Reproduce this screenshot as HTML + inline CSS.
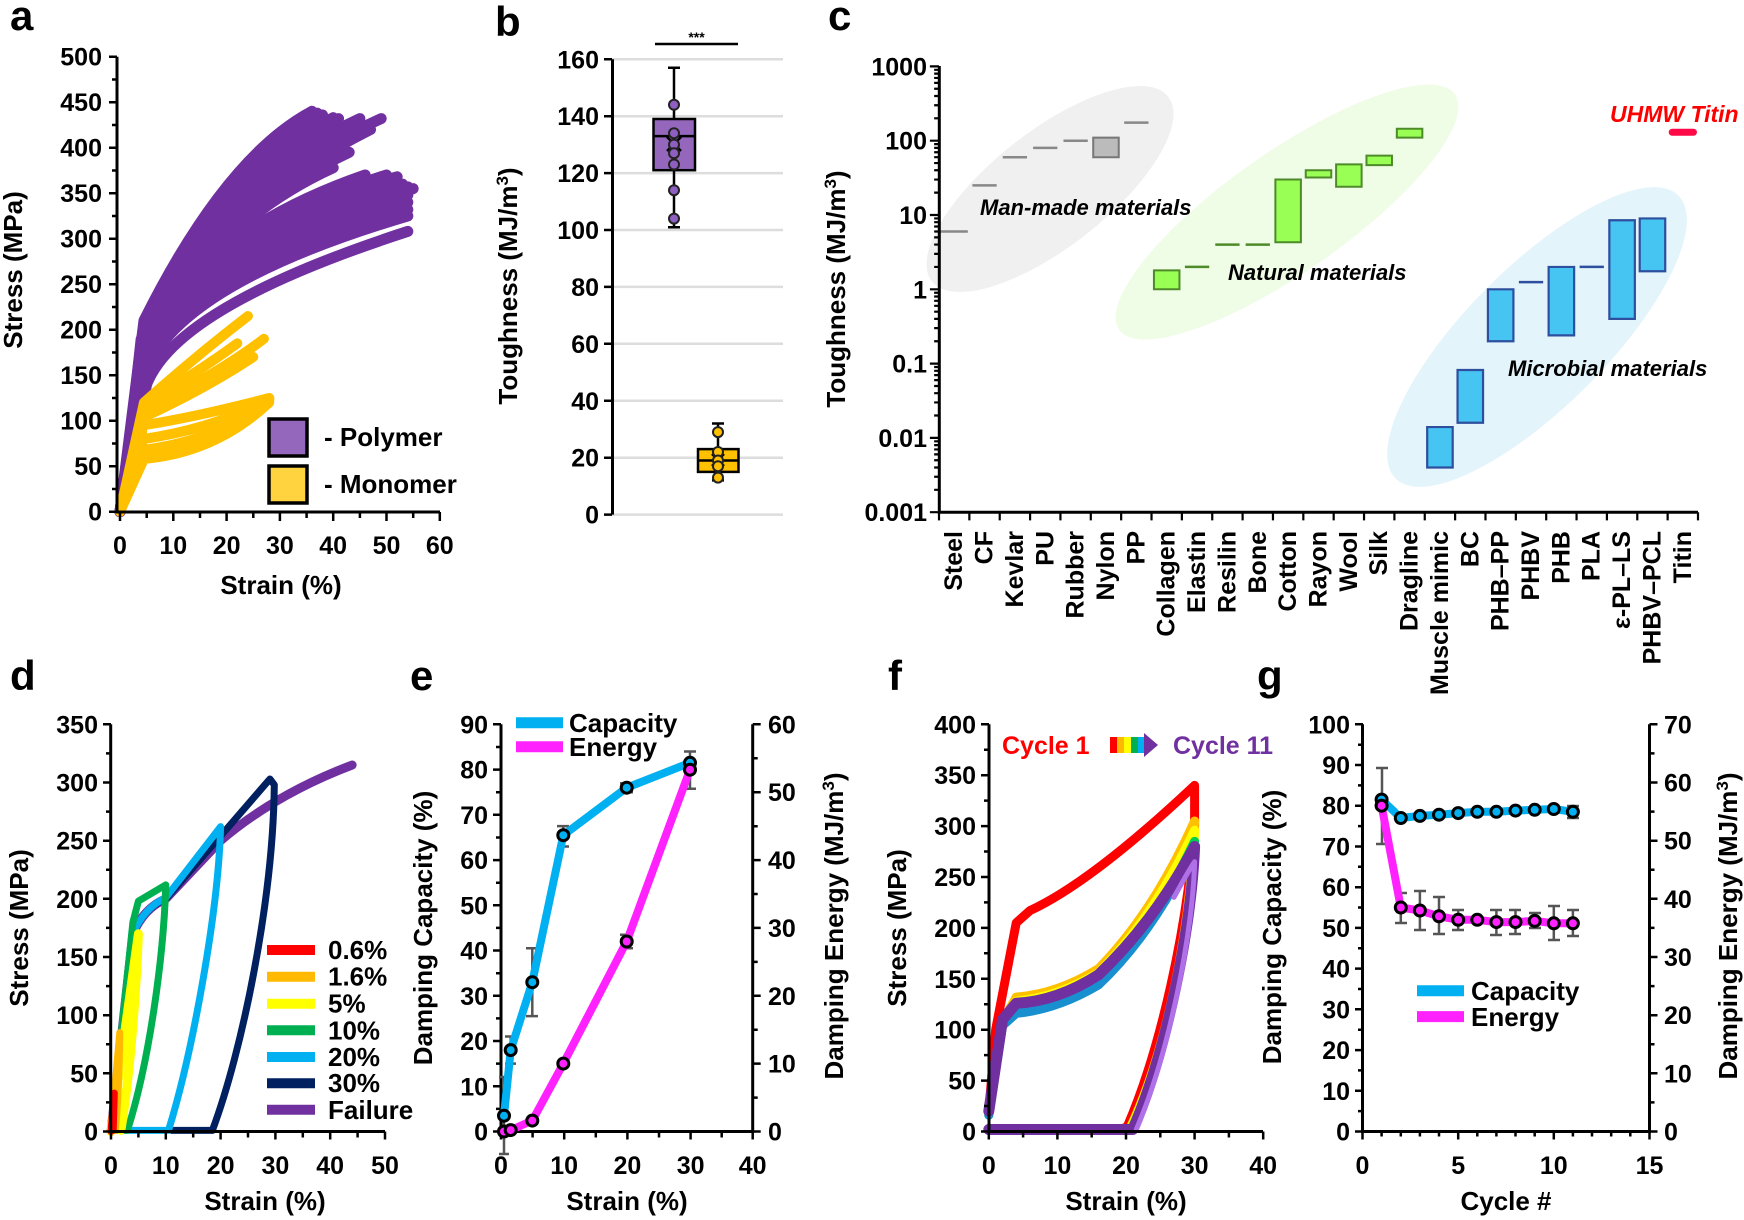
<!DOCTYPE html>
<html><head><meta charset="utf-8"><style>
html,body{margin:0;padding:0;background:#fff}
svg{display:block}
text{font-family:"Liberation Sans",Arial,sans-serif;font-weight:bold;fill:#000}
.t{font-size:25px}
.n *{vector-effect:non-scaling-stroke}
.ax{stroke:#000;stroke-width:3;fill:none}
.tk{stroke:#000;stroke-width:2.5;fill:none}
</style></head><body>
<svg width="1744" height="1220" viewBox="0 0 1744 1220" xmlns="http://www.w3.org/2000/svg">

<text x="10" y="30" style="font-size:42px">a</text>
<text x="495" y="36" style="font-size:42px">b</text>
<text x="828" y="30" style="font-size:42px">c</text>
<text x="10" y="690" style="font-size:42px">d</text>
<text x="410" y="690" style="font-size:42px">e</text>
<text x="888" y="690" style="font-size:42px">f</text>
<text x="1257" y="690" style="font-size:42px">g</text>

<!-- ================= PANEL A ================= -->
<g class="n" transform="translate(120,511.7) scale(5.33,-0.91)" fill="none" stroke-linecap="round" stroke-linejoin="round">
  <path d="M0,0 L3.5,190 L5,212 L5,135 L3,100 Z" fill="#7030A0" stroke="#7030A0" stroke-width="6"/>
  <g stroke="#7030A0" stroke-width="11">
    <path d="M0,0 L4.5,210 Q19.75,389 36,440"/>
    <path d="M4.5,207 Q19,382 37,438"/>
    <path d="M4.5,205 Q18.5,376 38,436"/>
    <path d="M4.5,202 Q17.8,370 40,433"/>
    <path d="M0,0 L4.5,200 Q17.25,364 41,432"/>
    <path d="M4.5,197 Q15,350 45,432"/>
    <path d="M0,0 L4.5,195 Q13.25,336.5 49,432"/>
    <path d="M4.5,190 Q15,325 47,420"/>
    <path d="M4.5,188 Q16,320 43,395"/>
    <path d="M0,0 L4.5,185 Q17.75,318.5 40,378"/>
    <path d="M4.5,180 Q14,305 46,370"/>
    <path d="M4.5,178 Q13,302 50,370"/>
    <path d="M0,0 L4.5,175 Q11.75,298.5 52,368"/>
    <path d="M4.5,170 Q11,290 53,360"/>
    <path d="M4.5,168 Q10.5,287 54,357"/>
    <path d="M0,0 L4.5,165 Q10.25,284 55,355"/>
    <path d="M4.5,160 Q10.5,276 54,348"/>
    <path d="M0,0 L4.5,155 Q10.75,268.5 54,340"/>
    <path d="M4.5,152 Q10.75,260 54,332"/>
    <path d="M4.5,150 Q10.75,250 54,325"/>
    <path d="M0,0 L5,140 Q10.75,226 54,308"/>
  </g>
  <path d="M0,0 L4.5,122 L4.5,55 Z" fill="#FFC000" stroke="#FFC000" stroke-width="6"/>
  <g stroke="#FFC000" stroke-width="10">
    <path d="M0,0 L4.5,120 Q14,170 24,215"/>
    <path d="M4.5,118 Q15,155 22,185"/>
    <path d="M4.5,112 Q18,150 27,190"/>
    <path d="M4.5,104 Q16,135 25,170"/>
    <path d="M4.5,95 Q15,105 28,125"/>
    <path d="M4.5,80 Q18,92 28,124"/>
    <path d="M4.5,68 Q18,78 28,122"/>
    <path d="M0,0 L4.5,58 Q18,65 28,120"/>
  </g>
</g>
<path class="ax" d="M117,56.7 V512 H440"/>
<path class="tk" d="M109,56.7h8M109,102.2h8M109,147.7h8M109,193.2h8M109,238.7h8M109,284.2h8M109,329.7h8M109,375.2h8M109,420.7h8M109,466.2h8M109,511.7h8
M112,79.5h5M112,125h5M112,170.5h5M112,216h5M112,261.5h5M112,307h5M112,352.5h5M112,398h5M112,443.5h5M112,489h5
M120,512v9M173.3,512v9M226.6,512v9M279.9,512v9M333.2,512v9M386.5,512v9M439.8,512v9
M146.7,512v6M200,512v6M253.3,512v6M306.6,512v6M359.9,512v6M413.2,512v6"/>
<g class="t" text-anchor="end">
<text x="102" y="65.7">500</text><text x="102" y="111.2">450</text><text x="102" y="156.7">400</text><text x="102" y="202.2">350</text><text x="102" y="247.7">300</text><text x="102" y="293.2">250</text><text x="102" y="338.7">200</text><text x="102" y="384.2">150</text><text x="102" y="429.7">100</text><text x="102" y="475.2">50</text><text x="102" y="520.7">0</text>
</g>
<g class="t" text-anchor="middle">
<text x="120" y="554">0</text><text x="173.3" y="554">10</text><text x="226.6" y="554">20</text><text x="279.9" y="554">30</text><text x="333.2" y="554">40</text><text x="386.5" y="554">50</text><text x="439.8" y="554">60</text>
<text x="281" y="594" style="font-size:26px">Strain (%)</text>
<text transform="translate(22,270) rotate(-90)" style="font-size:26px">Stress (MPa)</text>
</g>
<rect x="269" y="419" width="38" height="37" fill="#9467BD" stroke="#000" stroke-width="3.5"/>
<rect x="269" y="466" width="38" height="37" fill="#FFD23F" stroke="#000" stroke-width="3.5"/>
<text class="t" x="324" y="446" style="font-size:26px">- Polymer</text>
<text class="t" x="324" y="493" style="font-size:26px">- Monomer</text>

<!-- ================= PANEL B ================= -->
<g stroke="#DDDDDD" stroke-width="2.5">
<path d="M612,59.3H783M612,116.2H783M612,173.1H783M612,230H783M612,286.9H783M612,343.8H783M612,400.8H783M612,457.7H783M612,514.6H783"/>
</g>
<path class="ax" d="M612.5,59.3 V514.6"/>
<path class="tk" d="M604,59.3h8M604,116.2h8M604,173.1h8M604,230h8M604,286.9h8M604,343.8h8M604,400.8h8M604,457.7h8M604,514.6h8"/>
<g class="t" text-anchor="end">
<text x="599" y="68.3">160</text><text x="599" y="125.2">140</text><text x="599" y="182.1">120</text><text x="599" y="239">100</text><text x="599" y="295.9">80</text><text x="599" y="352.8">60</text><text x="599" y="409.8">40</text><text x="599" y="466.7">20</text><text x="599" y="523.6">0</text>
</g>
<text class="t" text-anchor="middle" transform="translate(517,286) rotate(-90)" style="font-size:26px">Toughness (MJ/m<tspan dy="-9" style="font-size:17px">3</tspan><tspan dy="9">)</tspan></text>
<path d="M655,44H738" stroke="#000" stroke-width="2.5"/>
<text x="696.5" y="42" text-anchor="middle" style="font-size:14px">***</text>
<g stroke="#000" stroke-width="2.5" fill="none">
<path d="M674,67.8V227.2M668,67.8h12M668,227.2h12"/>
<rect x="653.5" y="119" width="41.5" height="51.2" fill="#9467BD"/>
<path d="M653.5,136.1h41.5M667,137l14,14M681,137l-14,14"/>
<path d="M718,423.5V480.4M712,423.5h12M712,480.4h12"/>
<rect x="698" y="449.1" width="40.5" height="22.8" fill="#FFC000"/>
<path d="M698,460.5h40.5M712,454l12,12M724,454l-12,12"/>
</g>
<g stroke="#222" stroke-width="2" fill="#8E5FC0">
<circle cx="674" cy="104.8" r="5"/><circle cx="674" cy="133.2" r="5"/><circle cx="674" cy="144.6" r="5"/><circle cx="674" cy="153.2" r="5"/><circle cx="674" cy="164.5" r="5"/><circle cx="674" cy="190.2" r="5"/><circle cx="674" cy="218.6" r="5"/>
</g>
<g stroke="#222" stroke-width="2" fill="#FFC000">
<circle cx="718" cy="432.1" r="5"/><circle cx="718" cy="452" r="5"/><circle cx="718" cy="460.5" r="5"/><circle cx="718" cy="466.2" r="5"/><circle cx="718" cy="477.6" r="5"/>
</g>

<!-- ================= PANEL C ================= -->
<ellipse cx="1050" cy="189" rx="150" ry="58" transform="rotate(-38 1050 189)" fill="#F0F0F0"/>
<ellipse cx="1287" cy="212" rx="205" ry="60" transform="rotate(-35 1287 212)" fill="#EFFCE6"/>
<ellipse cx="1537" cy="337" rx="200" ry="70" transform="rotate(-45 1537 337)" fill="#E3F4FB"/>
<g class="n" transform="translate(939,512.2) scale(30.36,-74.3)">
  <g stroke="#888" stroke-width="2.5" fill="none">
    <path d="M0,3.778H0.95M1.1,4.398H1.9M2.1,4.778H2.9M3.1,4.903H3.9M4.1,5H4.9M6.1,5.243H6.9"/>
  </g>
  <rect x="5.08" y="4.778" width="0.84" height="0.263" fill="#BBBBBB" stroke="#777" stroke-width="2"/>
  <g stroke="#4E8A2A" stroke-width="2" fill="#99FF55">
    <rect x="7.08" y="3" width="0.84" height="0.255"/>
    <rect x="11.08" y="3.633" width="0.84" height="0.844"/>
    <rect x="12.08" y="4.505" width="0.84" height="0.097"/>
    <rect x="13.08" y="4.38" width="0.84" height="0.301"/>
    <rect x="14.08" y="4.672" width="0.84" height="0.127"/>
    <rect x="15.08" y="5.041" width="0.84" height="0.12"/>
  </g>
  <path d="M8.1,3.301H8.9M9.1,3.602H9.9M10.1,3.602H10.9" stroke="#4E8A2A" stroke-width="2.5" fill="none"/>
  <g stroke="#2E4F9E" stroke-width="2.2" fill="#46C4F2">
    <rect x="16.08" y="0.602" width="0.84" height="0.544"/>
    <rect x="17.08" y="1.204" width="0.84" height="0.71"/>
    <rect x="18.08" y="2.301" width="0.84" height="0.699"/>
    <rect x="20.08" y="2.38" width="0.84" height="0.921"/>
    <rect x="22.08" y="2.602" width="0.84" height="1.327"/>
    <rect x="23.08" y="3.243" width="0.84" height="0.711"/>
  </g>
  <path d="M19.1,3.097H19.9M21.1,3.301H21.9" stroke="#2E4F9E" stroke-width="2.5" fill="none"/>
  <path d="M24.15,5.114H24.85" stroke="#FF0A46" stroke-width="7" stroke-linecap="round"/>
  <g stroke="#000" stroke-width="2.2" fill="none">
    <path d="M-0.3,0H0M-0.3,1H0M-0.3,2H0M-0.3,3H0M-0.3,4H0M-0.3,5H0M-0.3,6H0"/>
    <path d="M-0.16,0.301H0M-0.16,0.477H0M-0.16,0.602H0M-0.16,0.699H0M-0.16,0.778H0M-0.16,0.845H0M-0.16,0.903H0M-0.16,0.954H0
    M-0.16,1.301H0M-0.16,1.477H0M-0.16,1.602H0M-0.16,1.699H0M-0.16,1.778H0M-0.16,1.845H0M-0.16,1.903H0M-0.16,1.954H0
    M-0.16,2.301H0M-0.16,2.477H0M-0.16,2.602H0M-0.16,2.699H0M-0.16,2.778H0M-0.16,2.845H0M-0.16,2.903H0M-0.16,2.954H0
    M-0.16,3.301H0M-0.16,3.477H0M-0.16,3.602H0M-0.16,3.699H0M-0.16,3.778H0M-0.16,3.845H0M-0.16,3.903H0M-0.16,3.954H0
    M-0.16,4.301H0M-0.16,4.477H0M-0.16,4.602H0M-0.16,4.699H0M-0.16,4.778H0M-0.16,4.845H0M-0.16,4.903H0M-0.16,4.954H0
    M-0.16,5.301H0M-0.16,5.477H0M-0.16,5.602H0M-0.16,5.699H0M-0.16,5.778H0M-0.16,5.845H0M-0.16,5.903H0M-0.16,5.954H0"/>
    <path d="M0,0V-0.11M1,0V-0.11M2,0V-0.11M3,0V-0.11M4,0V-0.11M5,0V-0.11M6,0V-0.11M7,0V-0.11M8,0V-0.11M9,0V-0.11M10,0V-0.11M11,0V-0.11M12,0V-0.11M13,0V-0.11M14,0V-0.11M15,0V-0.11M16,0V-0.11M17,0V-0.11M18,0V-0.11M19,0V-0.11M20,0V-0.11M21,0V-0.11M22,0V-0.11M23,0V-0.11M24,0V-0.11M25,0V-0.11"/>
  </g>
</g>
<path class="ax" d="M939.3,66 V512.2 H1698"/>
<g class="t" text-anchor="end">
<text x="927" y="75.4">1000</text><text x="927" y="149.7">100</text><text x="927" y="224">10</text><text x="927" y="298.3">1</text><text x="927" y="372.6">0.1</text><text x="927" y="446.9">0.01</text><text x="927" y="521.2">0.001</text>
</g>
<text class="t" text-anchor="middle" transform="translate(845,289) rotate(-90)" style="font-size:26px">Toughness (MJ/m<tspan dy="-9" style="font-size:17px">3</tspan><tspan dy="9">)</tspan></text>
<g class="t" text-anchor="end" dominant-baseline="central">
<text transform="translate(954.2,531) rotate(-90)">Steel</text>
<text transform="translate(984.5,531) rotate(-90)">CF</text>
<text transform="translate(1014.9,531) rotate(-90)">Kevlar</text>
<text transform="translate(1045.3,531) rotate(-90)">PU</text>
<text transform="translate(1075.6,531) rotate(-90)">Rubber</text>
<text transform="translate(1106,531) rotate(-90)">Nylon</text>
<text transform="translate(1136.3,531) rotate(-90)">PP</text>
<text transform="translate(1166.7,531) rotate(-90)">Collagen</text>
<text transform="translate(1197.1,531) rotate(-90)">Elastin</text>
<text transform="translate(1227.4,531) rotate(-90)">Resilin</text>
<text transform="translate(1257.8,531) rotate(-90)">Bone</text>
<text transform="translate(1288.1,531) rotate(-90)">Cotton</text>
<text transform="translate(1318.5,531) rotate(-90)">Rayon</text>
<text transform="translate(1348.8,531) rotate(-90)">Wool</text>
<text transform="translate(1379.2,531) rotate(-90)">Silk</text>
<text transform="translate(1409.6,531) rotate(-90)">Dragline</text>
<text transform="translate(1439.9,531) rotate(-90)">Muscle mimic</text>
<text transform="translate(1470.3,531) rotate(-90)">BC</text>
<text transform="translate(1500.6,531) rotate(-90)">PHB–PP</text>
<text transform="translate(1531,531) rotate(-90)">PHBV</text>
<text transform="translate(1561.4,531) rotate(-90)">PHB</text>
<text transform="translate(1591.7,531) rotate(-90)">PLA</text>
<text transform="translate(1622.1,531) rotate(-90)">ε-PL–LS</text>
<text transform="translate(1652.4,531) rotate(-90)">PHBV–PCL</text>
<text transform="translate(1682.8,531) rotate(-90)">Titin</text>
</g>
<g style="font-size:22px;font-style:italic">
<text x="980" y="215">Man-made materials</text>
<text x="1228" y="280">Natural materials</text>
<text x="1508" y="376">Microbial materials</text>
<text x="1610" y="122" style="fill:#FF0000;font-size:23px">UHMW Titin</text>
</g>

<!-- ================= PANEL D ================= -->
<g class="n" transform="translate(111,1131.5) scale(5.48,-1.1634)" fill="none" stroke-linejoin="round" stroke-linecap="round">
  <path d="M0,0 L4,170 Q6,192 10,200 L20,250 Q30,290 44,315" stroke="#7030A0" stroke-width="9"/>
  <path d="M0,0 L4,170 Q6,192 10,200 L20,254 L29,303 L29.8,298 C29.6,200 24,70 18.5,1 L11,1" stroke="#002060" stroke-width="7"/>
  <path d="M0,0 L4,170 Q6,192 10,201 L20,262 C19.6,190 15,70 10.5,1 L2,1" stroke="#00B0F0" stroke-width="7"/>
  <path d="M0,0 L4,180 L5,198 L10,212 C9.6,150 7,60 3,1 L1,1" stroke="#00B050" stroke-width="7"/>
  <path d="M0,0 L5,170 C4.6,120 3.5,50 1.8,1" stroke="#FFFF00" stroke-width="9"/>
  <path d="M0,0 L1.6,85 C1.5,50 1.2,20 0.8,1" stroke="#FFB900" stroke-width="7"/>
  <path d="M0,0 L0.6,33 L0.4,1" stroke="#FF0000" stroke-width="7"/>
</g>
<path class="ax" d="M110.7,724.3 V1131.5 H385"/>
<path class="tk" d="M103,724.3h8M103,782.5h8M103,840.7h8M103,898.8h8M103,957h8M103,1015.2h8M103,1073.3h8M103,1131.5h8
M106,753.4h5M106,811.6h5M106,869.8h5M106,927.9h5M106,986.1h5M106,1044.3h5M106,1102.4h5
M111,1131.5v8M165.8,1131.5v8M220.6,1131.5v8M275.4,1131.5v8M330.2,1131.5v8M385,1131.5v8
M138.4,1131.5v6M193.2,1131.5v6M248,1131.5v6M302.8,1131.5v6M357.6,1131.5v6"/>
<g class="t" text-anchor="end">
<text x="98" y="733.3">350</text><text x="98" y="791.5">300</text><text x="98" y="849.7">250</text><text x="98" y="907.8">200</text><text x="98" y="966">150</text><text x="98" y="1024.2">100</text><text x="98" y="1082.3">50</text><text x="98" y="1140.5">0</text>
</g>
<g class="t" text-anchor="middle">
<text x="111" y="1174">0</text><text x="165.8" y="1174">10</text><text x="220.6" y="1174">20</text><text x="275.4" y="1174">30</text><text x="330.2" y="1174">40</text><text x="385" y="1174">50</text>
<text x="265" y="1210" style="font-size:26px">Strain (%)</text>
<text transform="translate(28,928) rotate(-90)" style="font-size:26px">Stress (MPa)</text>
</g>
<g stroke-width="10">
<path d="M267,950H315" stroke="#FF0000"/><path d="M267,976.7H315" stroke="#FFB900"/><path d="M267,1003.7H315" stroke="#FFFF00"/><path d="M267,1030.3H315" stroke="#00B050"/><path d="M267,1057H315" stroke="#00B0F0"/><path d="M267,1083.2H315" stroke="#002060"/><path d="M267,1109.8H315" stroke="#7030A0"/>
</g>
<g class="t" style="font-size:26px">
<text x="328" y="959">0.6%</text><text x="328" y="985.7">1.6%</text><text x="328" y="1012.7">5%</text><text x="328" y="1039.3">10%</text><text x="328" y="1066">20%</text><text x="328" y="1092.2">30%</text><text x="328" y="1118.8">Failure</text>
</g>

<!-- ================= PANEL E ================= -->
<path class="ax" d="M501,724.3 V1131.5 H752.7 V724.3"/>
<path class="tk" d="M493,724.3h8M493,769.6h8M493,814.8h8M493,860.1h8M493,905.3h8M493,950.5h8M493,995.8h8M493,1041h8M493,1086.3h8M493,1131.5h8
M496,747h5M496,792.2h5M496,837.5h5M496,882.7h5M496,927.9h5M496,973.2h5M496,1018.4h5M496,1063.6h5M496,1108.9h5
M752.7,724.3h8M752.7,792.2h8M752.7,860.1h8M752.7,927.9h8M752.7,995.8h8M752.7,1063.6h8M752.7,1131.5h8
M752.7,758.3h5M752.7,826.2h5M752.7,894h5M752.7,961.9h5M752.7,1029.7h5M752.7,1097.6h5
M501,1131.5v8M564.2,1131.5v8M627.4,1131.5v8M690.6,1131.5v8M752.7,1131.5v8
M532.6,1131.5v6M595.8,1131.5v6M659,1131.5v6M721.7,1131.5v6"/>
<g class="t" text-anchor="end">
<text x="488" y="733.3">90</text><text x="488" y="778.6">80</text><text x="488" y="823.8">70</text><text x="488" y="869.1">60</text><text x="488" y="914.3">50</text><text x="488" y="959.5">40</text><text x="488" y="1004.8">30</text><text x="488" y="1050">20</text><text x="488" y="1095.3">10</text><text x="488" y="1140.5">0</text>
</g>
<g class="t">
<text x="768" y="733.3">60</text><text x="768" y="801.2">50</text><text x="768" y="869.1">40</text><text x="768" y="936.9">30</text><text x="768" y="1004.8">20</text><text x="768" y="1072.6">10</text><text x="768" y="1140.5">0</text>
</g>
<g class="t" text-anchor="middle">
<text x="501" y="1174">0</text><text x="564.2" y="1174">10</text><text x="627.4" y="1174">20</text><text x="690.6" y="1174">30</text><text x="752.7" y="1174">40</text>
<text x="627" y="1210" style="font-size:26px">Strain (%)</text>
<text transform="translate(432,928) rotate(-90)" style="font-size:26px">Damping Capacity (%)</text>
<text transform="translate(843,926) rotate(-90)" style="font-size:26px">Damping Energy (MJ/m<tspan dy="-9" style="font-size:17px">3</tspan><tspan dy="9">)</tspan></text>
</g>
<g stroke="#555" stroke-width="2.5" fill="none">
<path d="M504,1154V1077M499,1154h10M499,1077h10"/>
<path d="M510.7,1063.6V1036.5M505,1063.6h11M505,1036.5h11"/>
<path d="M532.3,1016.1V948.3M526,1016.1h12M526,948.3h12"/>
<path d="M563.3,846.5V826.1M557,846.5h12M557,826.1h12"/>
<path d="M626.7,792.2V783.2M620,792.2h13M620,783.2h13"/>
<path d="M690,788.8V751.5M684,788.8h12M684,751.5h12"/>
<path d="M626.7,948.3V934.7M620,948.3h13M620,934.7h13"/>
</g>
<polyline points="504,1115.7 510.7,1050.1 532.3,982.2 563.3,835.2 626.7,787.7 690,762.8" fill="none" stroke="#00B0F0" stroke-width="8" stroke-linejoin="round"/>
<polyline points="504,1131.5 510.7,1130.1 532.3,1120.6 563.3,1063.6 626.7,941.5 690,769.7" fill="none" stroke="#FF22FF" stroke-width="8" stroke-linejoin="round"/>
<g stroke="#000" stroke-width="3" fill="#00B0F0">
<circle cx="504" cy="1115.7" r="5.5"/><circle cx="510.7" cy="1050.1" r="5.5"/><circle cx="532.3" cy="982.2" r="5.5"/><circle cx="563.3" cy="835.2" r="5.5"/><circle cx="626.7" cy="787.7" r="5.5"/><circle cx="690" cy="762.8" r="5.5"/>
</g>
<g stroke="#000" stroke-width="3" fill="#FF22FF">
<circle cx="504" cy="1131.5" r="5.5"/><circle cx="510.7" cy="1130.1" r="5.5"/><circle cx="532.3" cy="1120.6" r="5.5"/><circle cx="563.3" cy="1063.6" r="5.5"/><circle cx="626.7" cy="941.5" r="5.5"/><circle cx="690" cy="769.7" r="5.5"/>
</g>
<path d="M516,722.7H563" stroke="#00B0F0" stroke-width="11"/>
<path d="M516,746.7H563" stroke="#FF22FF" stroke-width="11"/>
<text class="t" x="569" y="732" style="font-size:26px">Capacity</text>
<text class="t" x="569" y="756" style="font-size:26px">Energy</text>

<!-- ================= PANEL F ================= -->
<g class="n" transform="translate(988.8,1131.5) scale(6.86,-1.018)" fill="none" stroke-linejoin="round" stroke-linecap="round">
  <path d="M0,20 L1,100 L4,205 L6,217 Q15,245 30,340 L30,300 C29,200 25,80 20.2,5 L19,1 L0,1" stroke="#FF0000" stroke-width="9"/>
  <path d="M0,18 L2,108 L4,132 Q10,135 16,160 Q24,215 30,305 C29.5,200 26,80 20.5,2 L0,2" stroke="#FFC000" stroke-width="9"/>
  <path d="M0,18 L2,106 L4,128 Q10,132 16,156 Q24,210 30,296 C29.5,200 26,80 20.6,2 L0,2" stroke="#FFFF00" stroke-width="9"/>
  <path d="M0,16 L2,104 L4,118 Q10,122 16,148 Q24,200 30,285 C29.5,200 26,80 20.8,2 L0,2" stroke="#00D050" stroke-width="9"/>
  <path d="M0,16 L2,104 L4,116 Q10,120 16,144 Q24,195 30,280 C29.5,200 26,80 21,2 L0,2" stroke="#1890D0" stroke-width="9"/>
  <path d="M0,20 L2,110 L4,126 Q10,128 16,154 Q24,205 30,280 C29.5,200 26,80 21,2 L0,2" stroke="#7030A0" stroke-width="11"/>
  <path d="M27,230 Q29,255 30,265 C29.8,200 26.5,80 21.5,2" stroke="#B070E8" stroke-width="5"/>
</g>
<path class="ax" d="M989,724.3 V1131.5 H1263"/>
<path class="tk" d="M981,724.3h8M981,775.2h8M981,826.1h8M981,877h8M981,927.9h8M981,978.8h8M981,1029.7h8M981,1080.6h8M981,1131.5h8
M984,749.7h5M984,800.6h5M984,851.5h5M984,902.4h5M984,953.3h5M984,1004.2h5M984,1055.1h5M984,1106h5
M988.8,1131.5v8M1057.4,1131.5v8M1126,1131.5v8M1194.6,1131.5v8M1263.2,1131.5v8
M1023.1,1131.5v6M1091.7,1131.5v6M1160.3,1131.5v6M1228.9,1131.5v6"/>
<g class="t" text-anchor="end">
<text x="976" y="733.3">400</text><text x="976" y="784.2">350</text><text x="976" y="835.1">300</text><text x="976" y="886">250</text><text x="976" y="936.9">200</text><text x="976" y="987.8">150</text><text x="976" y="1038.7">100</text><text x="976" y="1089.6">50</text><text x="976" y="1140.5">0</text>
</g>
<g class="t" text-anchor="middle">
<text x="988.8" y="1174">0</text><text x="1057.4" y="1174">10</text><text x="1126" y="1174">20</text><text x="1194.6" y="1174">30</text><text x="1263.2" y="1174">40</text>
<text x="1126" y="1210" style="font-size:26px">Strain (%)</text>
<text transform="translate(906,928) rotate(-90)" style="font-size:26px">Stress (MPa)</text>
</g>
<text class="t" x="1002" y="754" style="fill:#FF0000;font-size:25px">Cycle 1</text>
<rect x="1110" y="737" width="7" height="16" fill="#FF0000"/><rect x="1117" y="737" width="7" height="16" fill="#FFB900"/><rect x="1124" y="737" width="7" height="16" fill="#FFFF00"/><rect x="1131" y="737" width="7" height="16" fill="#00B050"/><rect x="1138" y="737" width="6" height="16" fill="#00B0F0"/>
<polygon points="1144,733 1158,745 1144,757" fill="#7030A0"/>
<text class="t" x="1173" y="754" style="fill:#7030A0;font-size:25px">Cycle 11</text>

<!-- ================= PANEL G ================= -->
<path class="ax" d="M1362.5,724.3 V1131.5 H1649.5 V724.3"/>
<path class="tk" d="M1355,724.3h8M1355,765h8M1355,805.7h8M1355,846.5h8M1355,887.2h8M1355,927.9h8M1355,968.6h8M1355,1009.3h8M1355,1050.1h8M1355,1090.8h8M1355,1131.5h8
M1358,744.7h5M1358,785.4h5M1358,826.1h5M1358,866.8h5M1358,907.5h5M1358,948.3h5M1358,989h5M1358,1029.7h5M1358,1070.4h5M1358,1111.1h5
M1649.5,724.3h8M1649.5,782.5h8M1649.5,840.7h8M1649.5,898.8h8M1649.5,957h8M1649.5,1015.2h8M1649.5,1073.3h8M1649.5,1131.5h8
M1649.5,753.4h5M1649.5,811.6h5M1649.5,869.8h5M1649.5,927.9h5M1649.5,986.1h5M1649.5,1044.3h5M1649.5,1102.4h5
M1362.5,1131.5v8M1458.2,1131.5v8M1553.8,1131.5v8M1649.5,1131.5v8
M1381.6,1131.5v5M1400.8,1131.5v5M1419.9,1131.5v5M1439,1131.5v5M1477.3,1131.5v5M1496.4,1131.5v5M1515.5,1131.5v5M1534.7,1131.5v5M1572.9,1131.5v5M1592,1131.5v5M1611.2,1131.5v5M1630.3,1131.5v5"/>
<g class="t" text-anchor="end">
<text x="1350" y="733.3">100</text><text x="1350" y="774">90</text><text x="1350" y="814.7">80</text><text x="1350" y="855.5">70</text><text x="1350" y="896.2">60</text><text x="1350" y="936.9">50</text><text x="1350" y="977.6">40</text><text x="1350" y="1018.3">30</text><text x="1350" y="1059.1">20</text><text x="1350" y="1099.8">10</text><text x="1350" y="1140.5">0</text>
</g>
<g class="t">
<text x="1664" y="733.3">70</text><text x="1664" y="791.5">60</text><text x="1664" y="849.7">50</text><text x="1664" y="907.8">40</text><text x="1664" y="966">30</text><text x="1664" y="1024.2">20</text><text x="1664" y="1082.3">10</text><text x="1664" y="1140.5">0</text>
</g>
<g class="t" text-anchor="middle">
<text x="1362.5" y="1174">0</text><text x="1458.2" y="1174">5</text><text x="1553.8" y="1174">10</text><text x="1649.5" y="1174">15</text>
<text x="1506" y="1210" style="font-size:26px">Cycle #</text>
<text transform="translate(1281,927) rotate(-90)" style="font-size:26px">Damping Capacity (%)</text>
<text transform="translate(1737,926) rotate(-90)" style="font-size:26px">Damping Energy (MJ/m<tspan dy="-9" style="font-size:17px">3</tspan><tspan dy="9">)</tspan></text>
</g>
<g stroke="#555" stroke-width="2.5" fill="none">
<path d="M1382,768V844M1376,768h12M1376,844h12"/>
<path d="M1572.9,806V818M1567,806h12M1567,818h12"/>
<path d="M1400.8,893V923M1395,893h12M1395,923h12"/>
<path d="M1419.9,891V930M1414,891h12M1414,930h12"/>
<path d="M1439,897V934M1433,897h12M1433,934h12"/>
<path d="M1458.2,910V930M1452,910h12M1452,930h12"/>
<path d="M1496.4,910V935M1490,910h12M1490,935h12"/>
<path d="M1515.5,910V934M1509,910h12M1509,934h12"/>
<path d="M1534.7,913V928M1529,913h12M1529,928h12"/>
<path d="M1553.8,906V940M1548,906h12M1548,940h12"/>
<path d="M1572.9,910V936M1567,910h12M1567,936h12"/>
</g>
<polyline points="1381.6,799.6 1400.8,818 1419.9,815.9 1439,814.7 1458.2,813.1 1477.3,811.8 1496.4,811.8 1515.5,810.6 1534.7,809.8 1553.8,809 1572.9,811.8" fill="none" stroke="#00B0F0" stroke-width="8" stroke-linejoin="round"/>
<polyline points="1381.6,805.7 1400.8,907.5 1419.9,910.5 1439,916.3 1458.2,919.8 1477.3,919.8 1496.4,922.1 1515.5,922.1 1534.7,920.9 1553.8,923.3 1572.9,923.3" fill="none" stroke="#FF22FF" stroke-width="8" stroke-linejoin="round"/>
<g stroke="#000" stroke-width="3" fill="#00B0F0">
<circle cx="1381.6" cy="799.6" r="5.5"/><circle cx="1400.8" cy="818" r="5.5"/><circle cx="1419.9" cy="815.9" r="5.5"/><circle cx="1439" cy="814.7" r="5.5"/><circle cx="1458.2" cy="813.1" r="5.5"/><circle cx="1477.3" cy="811.8" r="5.5"/><circle cx="1496.4" cy="811.8" r="5.5"/><circle cx="1515.5" cy="810.6" r="5.5"/><circle cx="1534.7" cy="809.8" r="5.5"/><circle cx="1553.8" cy="809" r="5.5"/><circle cx="1572.9" cy="811.8" r="5.5"/>
</g>
<g stroke="#000" stroke-width="3" fill="#FF22FF">
<circle cx="1381.6" cy="805.7" r="5.5"/><circle cx="1400.8" cy="907.5" r="5.5"/><circle cx="1419.9" cy="910.5" r="5.5"/><circle cx="1439" cy="916.3" r="5.5"/><circle cx="1458.2" cy="919.8" r="5.5"/><circle cx="1477.3" cy="919.8" r="5.5"/><circle cx="1496.4" cy="922.1" r="5.5"/><circle cx="1515.5" cy="922.1" r="5.5"/><circle cx="1534.7" cy="920.9" r="5.5"/><circle cx="1553.8" cy="923.3" r="5.5"/><circle cx="1572.9" cy="923.3" r="5.5"/>
</g>
<path d="M1417,990.7H1464" stroke="#00B0F0" stroke-width="11"/>
<path d="M1417,1016.6H1464" stroke="#FF22FF" stroke-width="11"/>
<text class="t" x="1471" y="1000" style="font-size:26px">Capacity</text>
<text class="t" x="1471" y="1026" style="font-size:26px">Energy</text>

</svg>
</body></html>
